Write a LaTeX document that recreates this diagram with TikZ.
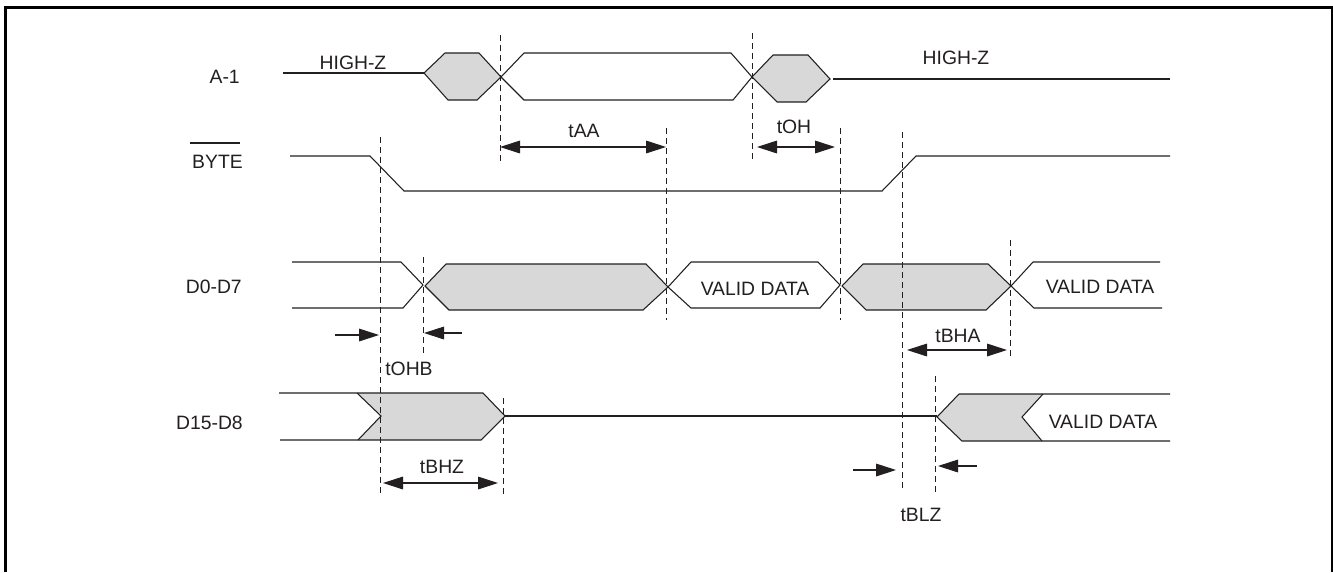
\documentclass[tikz,border=0pt]{standalone}
\usepackage{fontspec}
\setmainfont{Liberation Sans}
\usetikzlibrary{arrows.meta}
\definecolor{ink}{HTML}{231F20}
\definecolor{fillgray}{HTML}{D8D8D8}
\tikzset{
  x=0.75pt,y=-0.75pt,
  sig/.style={draw=ink,line width=0.8pt,line join=miter},
  grayshape/.style={sig,fill=fillgray},
  guide/.style={draw=ink,line width=0.6pt,dash pattern=on 4.5pt off 3pt},
  dim/.style={draw=ink,line width=0.8pt,{Triangle[length=15pt,width=9.5pt]}-{Triangle[length=15pt,width=9.5pt]}},
  point/.style={draw=ink,line width=0.8pt,-{Triangle[length=15pt,width=9.5pt]}},
  lab/.style={text=ink,font=\fontsize{14.5}{16}\selectfont,inner sep=0pt,anchor=center},
  rlab/.style={lab,anchor=east}
}
\begin{document}
\begin{tikzpicture}
\useasboundingbox (0,0) rectangle (1333,572);
\fill[white] (0,0) rectangle (1333,572);
\draw[black,line width=2.25pt] (5.5,572)--(5.5,7.5)--(1332,7.5)--(1332,572);
% fills
\path[grayshape] (424,73)--(445,53)--(479,53)--(501,77)--(477,100)--(448,100)--cycle;
\path[grayshape] (752,77)--(773,55)--(808,55)--(830,79)--(806,102)--(777,102)--cycle;
\path[grayshape] (425,286)--(446,264)--(646,264)--(668,287)--(643,310)--(449,310)--cycle;
\path[grayshape] (842,286)--(863,264)--(988,264)--(1011,286)--(986,310)--(866,310)--cycle;
\path[fill=fillgray] (357,393)--(483,393)--(505,416)--(481,440)--(358,440)--(381,416)--cycle;
\path[fill=fillgray] (937,417)--(959,394)--(1043,394)--(1022,417)--(1042,441)--(962,441)--cycle;
% A-1
\coordinate (a1s) at (283,73);
\coordinate (a1h) at (424,73);
\draw[sig] (a1s)--(a1h);
\draw[sig] (501,77)--(524,53)--(710,53)--(731,53)--(752,77);
\draw[sig] (501,77)--(524,100)--(733,100)--(752,77);
\coordinate (a1e) at (1170,79);
\draw[sig] (833,79)--(a1e);
% BYTE
\draw[sig] (290,156)--(370,156)--(404,191)--(882,191)--(916,156)--(1170,156);
% D0-D7
\draw[sig] (292,262)--(401,262)--(423,285);
\draw[sig] (292,308)--(403,308)--(423,285);
\draw[sig] (668,287)--(691,262)--(818,262)--(840,285)--(820,308)--(691,308)--(668,287);
\draw[sig] (1011,286)--(1033,262)--(1160,262);
\draw[sig] (1011,286)--(1034,308)--(1162,308);
% D15-D8
\draw[sig] (279,393)--(483,393)--(505,416)--(481,440)--(280,440);
\draw[sig] (357,393)--(381,416)--(358,440);
\draw[sig] (505,416)--(937,416);
\draw[sig] (1170,394)--(959,394)--(937,417)--(962,441)--(1170,441);
\draw[sig] (1043,394)--(1022,417)--(1042,441);
% guides
\draw[guide] (500,35)--(500,162);
\draw[guide] (666,128)--(666,320);
\draw[guide] (752,33)--(752,159);
\draw[guide] (840,128)--(840,320);
\draw[guide] (380,137)--(380,497);
\draw[guide] (902,132)--(902,490);
\draw[guide] (423,257)--(423,357);
\draw[guide] (1010,240)--(1010,360);
\draw[guide] (503,398)--(503,497);
\draw[guide] (935,376)--(935,496);
% dimension arrows
\coordinate (aa1) at (500,147); \coordinate (aa2) at (666,147);
\draw[dim] (aa1)--(aa2);
\coordinate (oh1) at (757,147); \coordinate (oh2) at (835,147);
\draw[dim] (oh1)--(oh2);
\coordinate (ha1) at (907,350); \coordinate (ha2) at (1007,350);
\draw[dim] (ha1)--(ha2);
\coordinate (hz1) at (383,483); \coordinate (hz2) at (498,483);
\draw[dim] (hz1)--(hz2);
\coordinate (ob1) at (335,335); \coordinate (ob2) at (379,335);
\draw[point] (ob1)--(ob2);
\coordinate (ob3) at (462,333); \coordinate (ob4) at (424,333);
\draw[point] (ob3)--(ob4);
\coordinate (lz1) at (853,470); \coordinate (lz2) at (896,470);
\draw[point] (lz1)--(lz2);
\coordinate (lz3) at (977,466); \coordinate (lz4) at (938,466);
\draw[point] (lz3)--(lz4);
% labels
\node[lab] (n1) at (353,63) {HIGH-Z};
\node[lab] (n2) at (956,58) {HIGH-Z};
\node[lab] (n3) at (584,131) {tAA};
\node[lab] (n4) at (794,127) {tOH};
\node[lab] (n5) at (409,369) {tOHB};
\node[lab] (n6) at (442,467) {tBHZ};
\node[lab] (n7) at (958,336) {tBHA};
\node[lab] (n8) at (921,515) {tBLZ};
\node[lab] (n9) at (755,289) {VALID DATA};
\node[lab] (n10) at (1100,287) {VALID DATA};
\node[lab] (n11) at (1103,422) {VALID DATA};
\node[rlab] (n12) at (240,77) {A-1};
\node[rlab] (n13) at (243,162) {BYTE};
\node[rlab] (n14) at (242,287) {D0-D7};
\node[rlab] (n15) at (243,423) {D15-D8};
\draw[draw=ink,line width=0.8pt] (190,143)--(240,143);
\end{tikzpicture}
\end{document}
